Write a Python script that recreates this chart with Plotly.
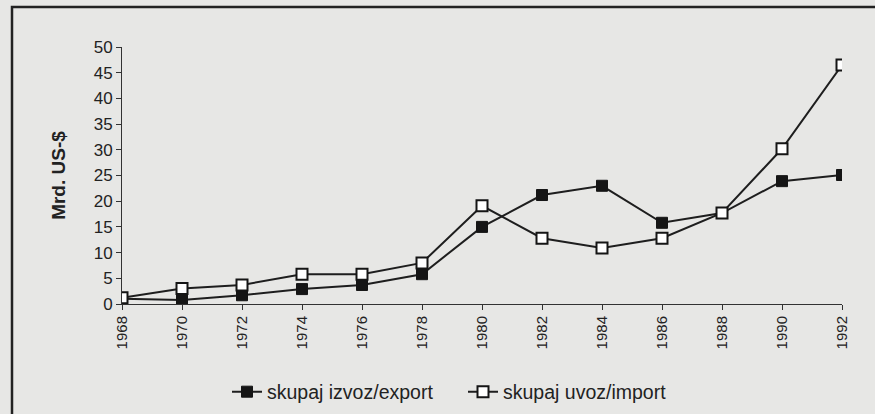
import plotly.graph_objects as go

years = [1968, 1970, 1972, 1974, 1976, 1978, 1980, 1982, 1984, 1986, 1988, 1990, 1992]
export_vals = [1.0, 0.8, 1.7, 2.9, 3.7, 5.8, 15.0, 21.2, 23.0, 15.8, 17.7, 23.9, 25.1]
import_vals = [1.2, 3.0, 3.7, 5.8, 5.8, 8.0, 19.1, 12.8, 10.9, 12.8, 17.7, 30.2, 46.5]
tick_labels = [str(y) for y in years]
y_ticks = list(range(0, 55, 5))

line_col = "#1e1e1e"
bg = "#e7e7e5"

fig = go.Figure()
fig.add_trace(go.Scatter(
    x=years, y=export_vals, mode="lines+markers", name="skupaj izvoz/export",
    line=dict(color=line_col, width=2),
    marker=dict(symbol="square", size=11, color="#151515", line=dict(color="#151515", width=1)),
))
fig.add_trace(go.Scatter(
    x=years, y=import_vals, mode="lines+markers", name="skupaj uvoz/import",
    line=dict(color=line_col, width=2),
    marker=dict(symbol="square", size=11, color="#ffffff", line=dict(color="#151515", width=2)),
))

L, R, T, B = 122, 33, 47, 110
W, H = 875, 414
pw = W - L - R
ph = H - T - B

def px_x(p):
    return (p - L) / pw

def px_y(p):
    return (H - B - p) / ph

fig.add_shape(type="rect", xref="paper", yref="paper",
              x0=px_x(12), x1=px_x(W + 20), y0=px_y(H + 20), y1=px_y(7),
              line=dict(color="#222222", width=2.5), fillcolor="rgba(0,0,0,0)", layer="below")

fig.update_layout(
    width=W, height=H,
    margin=dict(l=L, r=R, t=T, b=B, autoexpand=False),
    paper_bgcolor=bg, plot_bgcolor=bg,
    font=dict(family="Liberation Sans, Arial, sans-serif", size=15, color="#222222"),
    showlegend=True,
    legend=dict(orientation="h", xref="container", yref="container",
                x=(267 - 40) / W, y=1 - 392 / H, xanchor="left", yanchor="middle",
                entrywidth=231 - 40, entrywidthmode="pixels",
                bgcolor="rgba(0,0,0,0)", font=dict(size=19.5), tracegroupgap=0),
    xaxis=dict(
        range=[1968, 1992], tickvals=years, ticktext=tick_labels, tickangle=-90,
        tickfont=dict(size=15), automargin=False,
        showgrid=False, zeroline=False, showline=True, linecolor="#333333", linewidth=1,
        ticks="outside", ticklen=5, tickcolor="#333333",
    ),
    yaxis=dict(
        range=[0, 50], tickvals=y_ticks, showgrid=False, zeroline=False,
        tickfont=dict(size=17),
        showline=True, linecolor="#333333", linewidth=1,
        ticks="outside", ticklen=5, tickcolor="#333333",
        title=dict(text="<b>Mrd. US-$</b>", font=dict(size=19), standoff=23),
    ),
)

fig.write_html("out.html", config={"displayModeBar": False},
               post_script="document.body.style.margin='0';document.body.style.overflow='hidden';")
